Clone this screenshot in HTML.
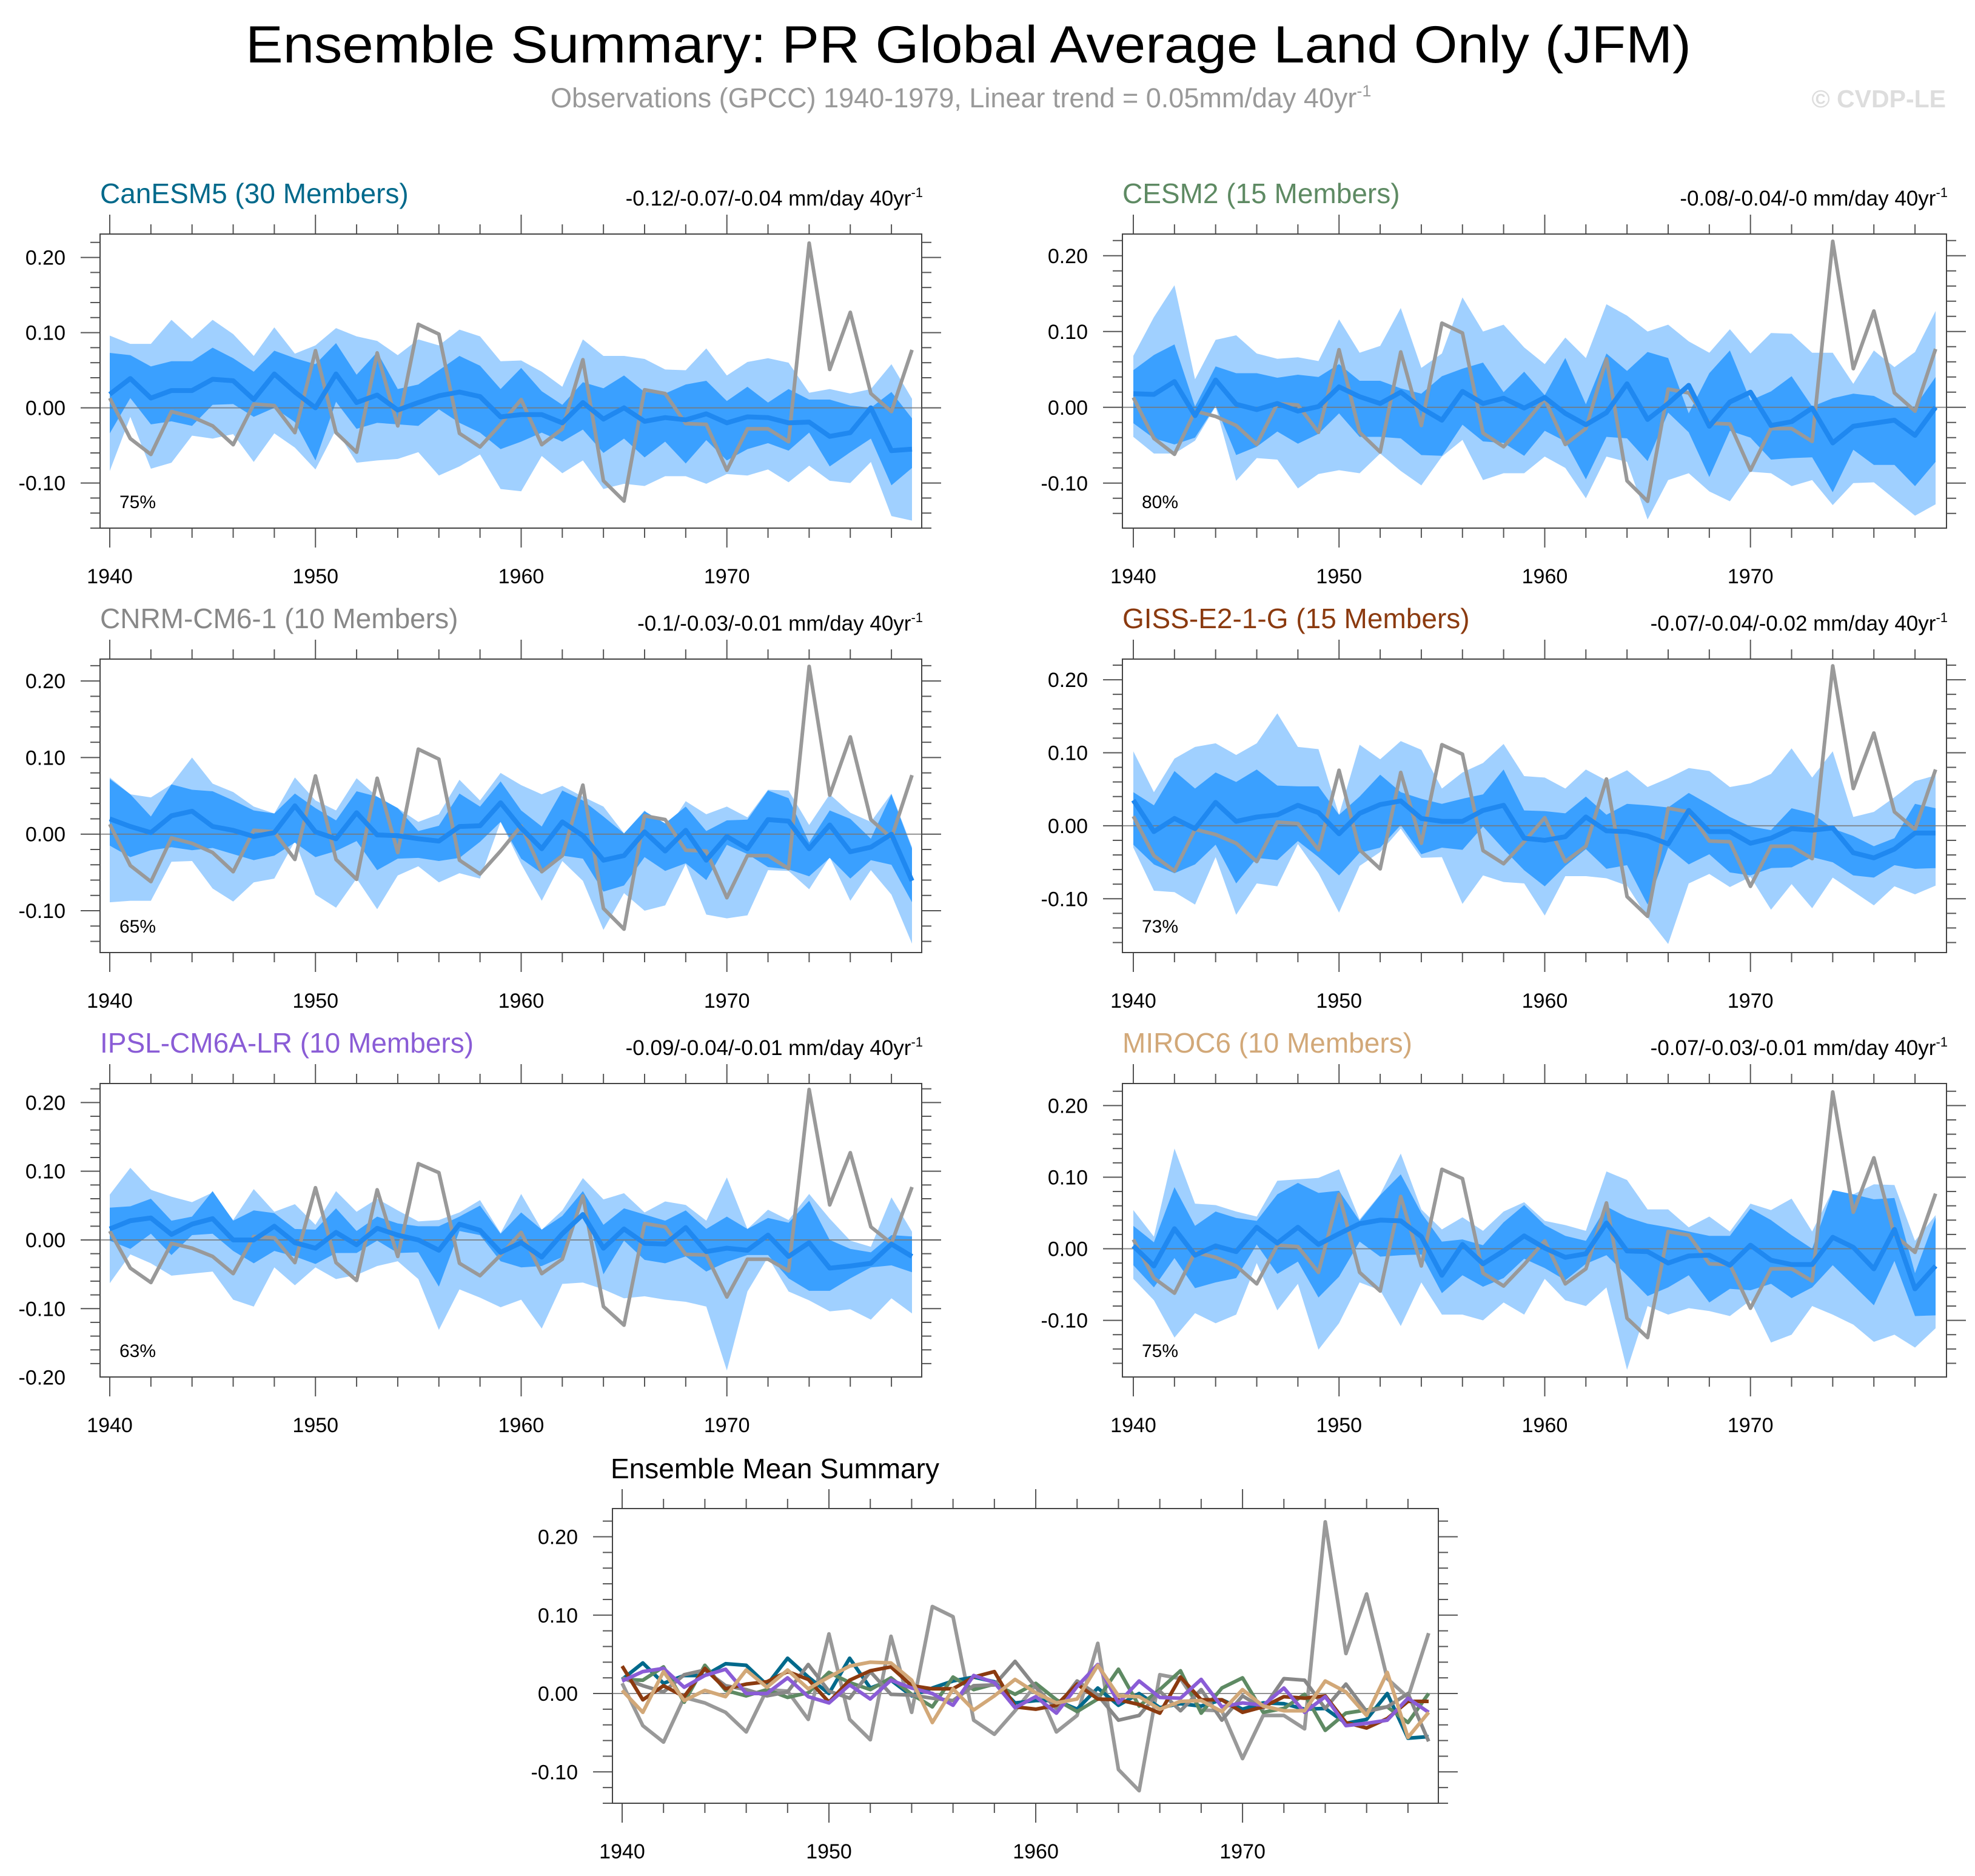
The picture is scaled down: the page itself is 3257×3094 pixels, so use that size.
<!DOCTYPE html>
<html><head><meta charset="utf-8"><style>
html,body{margin:0;padding:0;background:#fff;}
svg{display:block;font-family:"Liberation Sans",Arial,sans-serif;}
</style></head><body>
<svg id="chart" width="3257" height="3094" viewBox="0 0 3257 3094" xmlns="http://www.w3.org/2000/svg">
<rect width="3257" height="3094" fill="#fff"/>
<text x="1597" y="103" font-size="86" text-anchor="middle" textLength="2384" lengthAdjust="spacingAndGlyphs" fill="#000">Ensemble Summary: PR Global Average Land Only (JFM)</text>
<text x="908" y="177" font-size="45" fill="#999">Observations (GPCC) 1940-1979, Linear trend = 0.05mm/day 40yr<tspan dy="-18" font-size="27">-1</tspan></text>
<text x="3209" y="177" font-size="41" font-weight="bold" text-anchor="end" fill="#ddd">© CVDP-LE</text>
<g id="plots"></g>
</svg>
<script>
const years=[];for(let y=1940;y<=1979;y++)years.push(y);
const obs=[.013,-.041,-.062,-.005,-.012,-.024,-.049,.005,.003,-.033,.076,-.033,-.059,.073,-.024,.111,.098,-.034,-.052,-.022,.011,-.049,-.028,.064,-.097,-.124,.024,.019,-.021,-.022,-.083,-.028,-.028,-.045,.219,.051,.127,.019,-.005,.077];

const canMean=[.018,.039,.013,.023,.023,.038,.036,.011,.045,.021,0,.045,.007,.017,-.003,.007,.016,.021,.015,-.012,-.009,-.009,-.02,.007,-.015,0,-.018,-.013,-.016,-.008,-.02,-.012,-.013,-.02,-.019,-.038,-.033,0,-.057,-.055];
const canDarkHi=[.073,.07,.055,.062,.062,.08,.066,.048,.076,.066,.058,.086,.044,.074,.025,.031,.05,.069,.056,.025,.053,.022,.004,.034,.026,.043,.021,.019,.031,.036,.009,.028,.007,.025,.011,.011,.003,0,.021,-.014];
const canDarkLo=[-.034,.013,-.022,-.018,-.024,.004,.005,-.012,0,-.019,-.07,.008,-.028,-.02,-.022,-.024,-.002,-.02,-.033,-.055,-.045,-.033,-.045,-.029,-.06,-.041,-.066,-.045,-.074,-.043,-.07,-.055,-.047,-.057,-.033,-.078,-.059,-.041,-.103,-.08];
const canLightHi=[.096,.085,.085,.117,.092,.117,.098,.069,.107,.072,.083,.106,.095,.089,.07,.091,.083,.104,.095,.062,.063,.048,.028,.091,.069,.069,.065,.051,.05,.079,.043,.061,.066,.06,.02,.025,.019,.025,.058,.012];
const canLightLo=[-.084,-.012,-.081,-.073,-.037,-.041,-.035,-.072,-.034,-.053,-.082,-.029,-.073,-.07,-.068,-.059,-.09,-.078,-.062,-.108,-.111,-.064,-.087,-.07,-.108,-.101,-.104,-.091,-.091,-.101,-.088,-.09,-.082,-.099,-.077,-.097,-.1,-.072,-.144,-.15];

const cesMean=[.018,.017,.034,-.011,.036,.004,-.003,.005,-.005,.001,.027,.014,.005,.020,-.001,-.017,.021,.005,.012,-.001,.013,-.008,-.023,-.007,.031,-.016,.005,.029,-.025,.007,.020,-.024,-.019,-.001,-.047,-.025,-.021,-.017,-.037,0];
const cesDarkHi=[.049,.069,.083,.001,.054,.045,.045,.039,.043,.040,.057,.035,.035,.025,.018,.041,.051,.059,.020,.047,.016,.065,.004,.071,.048,.073,.065,-.008,.045,.075,.009,.021,.041,.001,.012,.018,.015,.001,.001,.040];
const cesDarkLo=[-.021,-.041,-.049,-.040,.002,-.063,-.052,-.032,-.048,-.035,-.008,-.039,-.039,-.041,-.063,-.064,-.023,-.045,-.047,-.064,-.031,-.045,-.095,-.039,-.041,-.071,-.007,-.033,-.092,-.031,-.040,-.069,-.067,-.066,-.112,-.056,-.076,-.076,-.104,-.072];
const cesLightHi=[.068,.119,.161,.037,.089,.095,.071,.064,.066,.061,.116,.072,.081,.131,.052,.071,.145,.100,.109,.079,.057,.092,.065,.136,.121,.100,.109,.087,.072,.103,.071,.098,.097,.072,.072,.031,.075,.053,.073,.127];
const cesLightLo=[-.039,-.061,-.061,-.044,.001,-.097,-.067,-.069,-.107,-.088,-.083,-.087,-.061,-.084,-.103,-.065,-.043,-.096,-.087,-.087,-.065,-.080,-.120,-.065,-.072,-.148,-.096,-.087,-.111,-.124,-.085,-.087,-.104,-.096,-.129,-.100,-.099,-.121,-.143,-.128];

const cnrMean=[.020,.010,.002,.024,.030,.010,.005,-.003,.002,.037,.003,-.006,.028,-.001,-.002,-.006,-.009,.010,.011,.041,.008,-.019,.016,-.002,-.034,-.028,.003,-.022,.005,-.034,-.003,-.019,.019,.017,-.019,.012,-.023,-.017,0,-.061];
const cnrDarkHi=[.072,.052,.023,.065,.058,.056,.044,.031,.027,.053,.034,.018,.056,.049,.034,.004,.011,.053,.036,.069,.031,.010,.057,.044,.023,.001,.030,.014,.036,.004,.018,.019,.057,.047,-.011,.031,.020,-.006,.052,-.019];
const cnrDarkLo=[-.015,-.030,-.021,-.017,-.021,-.018,-.026,-.034,-.028,-.011,-.030,-.022,-.009,-.047,-.032,-.031,-.035,-.031,-.010,.016,-.032,-.051,-.028,-.032,-.075,-.067,-.030,-.048,-.038,-.060,-.014,-.026,-.043,-.046,-.055,-.031,-.058,-.034,-.040,-.089];
const cnrLightHi=[.074,.052,.048,.065,.100,.066,.055,.036,.027,.074,.044,.031,.073,.049,.034,.016,.026,.071,.044,.080,.064,.052,.063,.049,.036,.001,.031,.002,.043,.026,.036,.022,.058,.057,.012,.052,.028,.016,.053,-.017];
const cnrLightLo=[-.089,-.087,-.087,-.036,-.035,-.071,-.088,-.063,-.058,-.009,-.079,-.096,-.058,-.098,-.054,-.042,-.063,-.051,-.058,.016,-.039,-.087,-.035,-.061,-.125,-.077,-.100,-.093,-.039,-.105,-.110,-.106,-.047,-.048,-.072,-.030,-.087,-.047,-.079,-.143];

const gisMean=[.035,-.008,.010,-.004,.032,.006,.012,.015,.028,.018,-.011,.017,.029,.034,.010,.006,.006,.021,.028,-.017,-.020,-.015,.012,-.007,-.008,-.014,-.025,.021,-.008,-.008,-.024,-.017,-.004,-.006,-.003,-.037,-.044,-.032,-.010,-.010];
const gisDarkHi=[.046,.028,.075,.051,.073,.060,.077,.055,.054,.054,.015,.040,.070,.046,.037,.030,.037,.043,.077,.021,.020,.017,.040,.015,.030,.028,.025,.045,.029,.012,-.001,-.006,.024,.017,-.004,-.014,-.028,-.017,.030,.024];
const gisDarkLo=[-.026,-.053,-.065,-.053,-.026,-.079,-.044,-.047,-.021,-.043,-.068,-.037,-.030,.001,-.039,-.030,-.033,-.001,-.032,-.061,-.083,-.055,-.032,-.059,-.054,-.108,-.030,-.053,-.039,-.064,-.068,-.058,-.057,-.043,-.050,-.068,-.071,-.054,-.059,-.058];
const gisLightHi=[.102,.046,.092,.108,.113,.097,.113,.154,.108,.105,.015,.111,.091,.116,.104,.051,.073,.086,.112,.068,.066,.051,.077,.062,.076,.053,.065,.079,.075,.053,.058,.071,.106,.066,.102,.012,.019,.039,.061,.069];
const gisLightLo=[-.030,-.089,-.091,-.108,-.043,-.122,-.079,-.083,-.025,-.065,-.119,-.055,-.036,-.004,-.044,-.043,-.107,-.068,-.077,-.079,-.123,-.069,-.069,-.072,-.082,-.126,-.162,-.079,-.066,-.084,-.070,-.115,-.080,-.113,-.071,-.090,-.109,-.083,-.094,-.082];

const ipsMean=[.016,.028,.032,.008,.023,.031,0,0,.020,-.004,-.012,.011,-.007,.017,.007,0,-.015,.023,.014,-.018,-.004,-.025,.009,.037,-.012,.016,-.005,-.006,.018,-.017,-.012,-.015,.007,-.024,-.004,-.041,-.038,-.034,-.006,-.024];
const ipsDarkHi=[.047,.049,.060,.028,.034,.071,.028,.043,.039,.016,.015,.046,.013,.034,.024,.020,.020,.034,.050,.009,.040,.015,.035,.071,.022,.046,.037,.028,.043,.016,.034,.016,.032,.025,.057,0,-.013,-.018,.007,.005];
const ipsDarkLo=[-.001,-.013,.009,-.022,.007,.009,-.016,-.034,-.016,-.024,-.035,-.019,-.019,-.001,-.019,-.018,-.068,.013,.007,-.031,-.040,-.038,-.025,.059,-.050,-.001,-.029,-.034,-.024,-.046,-.032,-.022,-.022,-.056,-.074,-.074,-.056,-.040,-.037,-.047];
const ipsLightHi=[.066,.105,.073,.063,.055,.069,.029,.074,.041,.052,.022,.071,.041,.060,.043,.027,.029,.040,.058,.010,.067,.015,.043,.090,.059,.068,.040,.056,.051,.028,.091,.016,.044,.029,.067,.031,-.001,-.010,.062,.012];
const ipsLightLo=[-.063,-.021,-.034,-.052,-.049,-.046,-.087,-.097,-.040,-.066,-.040,-.057,-.051,-.038,-.031,-.057,-.131,-.072,-.084,-.098,-.087,-.129,-.064,-.062,-.072,-.085,-.082,-.087,-.090,-.097,-.190,-.075,-.025,-.075,-.088,-.104,-.101,-.116,-.085,-.107];

const mirMean=[.004,-.024,.028,-.009,.004,-.004,.030,.008,.030,.006,.021,.035,.040,.039,.017,-.037,.006,-.021,-.003,.018,.001,-.012,-.007,.036,-.003,-.004,-.020,-.010,-.009,-.023,.005,-.016,-.022,-.022,.016,.002,-.028,.027,-.056,-.024];
const mirDarkHi=[.032,.009,.086,.032,.052,.043,.039,.076,.092,.078,.081,.039,.075,.104,.050,.010,.013,.005,.037,.061,.033,.018,.011,.059,.044,.035,.030,.024,.018,.018,.056,.040,.019,0,.082,.076,.069,.071,-.034,.044];
const mirDarkLo=[-.023,-.054,-.013,-.055,-.047,-.041,.006,-.035,-.018,-.068,-.039,.010,-.011,-.009,-.008,-.062,-.037,-.053,-.041,-.014,-.027,-.044,-.021,-.009,-.037,-.066,-.054,-.037,-.075,-.056,-.058,-.049,-.069,-.054,-.023,-.051,-.079,-.017,-.094,-.093];
const mirLightHi=[.054,.017,.140,.063,.061,.052,.045,.095,.097,.099,.111,.041,.076,.133,.055,.027,.044,.025,.052,.065,.039,.033,.025,.108,.096,.055,.055,.030,.045,.024,.063,.054,.070,.024,.082,.076,.090,.089,.011,.047];
const mirLightLo=[-.042,-.072,-.124,-.090,-.104,-.092,-.020,-.086,-.049,-.141,-.104,-.047,-.058,-.108,-.047,-.092,-.092,-.100,-.075,-.092,-.042,-.072,-.080,-.054,-.169,-.080,-.092,-.083,-.087,-.094,-.072,-.131,-.120,-.080,-.092,-.106,-.130,-.120,-.138,-.111];

const NS='http://www.w3.org/2000/svg';
const root=document.getElementById('plots');
function mk(tag,attrs,parent){const e=document.createElementNS(NS,tag);for(const k in attrs)e.setAttribute(k,attrs[k]);(parent||root).appendChild(e);return e;}

const panels=[
 {key:'canesm5',title:'CanESM5 (30 Members)',color:'#00698b',trend:'-0.12/-0.07/-0.04 mm/day 40yr',pct:'75%',l:165,r:1520,x0:181,x1:1504,t:386,b:871,ymax:.2311,ymin:-.1600,mean:canMean,dh:canDarkHi,dl:canDarkLo,lh:canLightHi,ll:canLightLo,ticks:[.2,.1,0,-.1]},
 {key:'cesm2',title:'CESM2 (15 Members)',color:'#5e8a63',trend:'-0.08/-0.04/-0 mm/day 40yr',pct:'80%',l:1851,r:3210,x0:1869,x1:3192,t:386,b:871,ymax:.2286,ymin:-.1594,mean:cesMean,dh:cesDarkHi,dl:cesDarkLo,lh:cesLightHi,ll:cesLightLo,ticks:[.2,.1,0,-.1]},
 {key:'cnrm-cm6-1',title:'CNRM-CM6-1 (10 Members)',color:'#888888',trend:'-0.1/-0.03/-0.01 mm/day 40yr',pct:'65%',l:165,r:1520,x0:181,x1:1504,t:1087,b:1571,ymax:.2286,ymin:-.1546,mean:cnrMean,dh:cnrDarkHi,dl:cnrDarkLo,lh:cnrLightHi,ll:cnrLightLo,ticks:[.2,.1,0,-.1]},
 {key:'giss-e2-1-g',title:'GISS-E2-1-G (15 Members)',color:'#8b3a0f',trend:'-0.07/-0.04/-0.02 mm/day 40yr',pct:'73%',l:1851,r:3210,x0:1869,x1:3192,t:1087,b:1571,ymax:.2283,ymin:-.1737,mean:gisMean,dh:gisDarkHi,dl:gisDarkLo,lh:gisLightHi,ll:gisLightLo,ticks:[.2,.1,0,-.1]},
 {key:'ipsl-cm6a-lr',title:'IPSL-CM6A-LR (10 Members)',color:'#8a5cd6',trend:'-0.09/-0.04/-0.01 mm/day 40yr',pct:'63%',l:165,r:1520,x0:181,x1:1504,t:1787,b:2271,ymax:.2277,ymin:-.1995,mean:ipsMean,dh:ipsDarkHi,dl:ipsDarkLo,lh:ipsLightHi,ll:ipsLightLo,ticks:[.2,.1,0,-.1,-.2]},
 {key:'miroc6',title:'MIROC6 (10 Members)',color:'#d2a878',trend:'-0.07/-0.03/-0.01 mm/day 40yr',pct:'75%',l:1851,r:3210,x0:1869,x1:3192,t:1787,b:2271,ymax:.2308,ymin:-.1791,mean:mirMean,dh:mirDarkHi,dl:mirDarkLo,lh:mirLightHi,ll:mirLightLo,ticks:[.2,.1,0,-.1]}
];

function axes(p,g){
  const xs=y=>p.x0+(y-1940)*(p.x1-p.x0)/39;
  const ys=v=>p.t+(p.ymax-v)/(p.ymax-p.ymin)*(p.b-p.t);
  for(let y=1940;y<=1978;y+=2){
    const major=(y%10===0);const len=major?32:16;const x=xs(y);
    mk('line',{x1:x,y1:p.t,x2:x,y2:p.t-len,stroke:'#555','stroke-width':2},g);
    mk('line',{x1:x,y1:p.b,x2:x,y2:p.b+len,stroke:'#555','stroke-width':2},g);
    if(major){const tl=mk('text',{x:x,y:p.b+91,'font-size':34,'text-anchor':'middle',fill:'#000'},g);tl.textContent=String(y);
      
      }
  }
  const lo=Math.ceil(p.ymin/0.02-1e-6),hi=Math.floor(p.ymax/0.02+1e-6);
  for(let k=lo;k<=hi;k++){
    const v=k*0.02;const major=(k%5===0);const len=major?32:16;const y=ys(v);
    mk('line',{x1:p.l,y1:y,x2:p.l-len,y2:y,stroke:'#555','stroke-width':2},g);
    mk('line',{x1:p.r,y1:y,x2:p.r+len,y2:y,stroke:'#555','stroke-width':2},g);
  }
  p.ticks.forEach(v=>{const tl=mk('text',{x:p.l-57,y:ys(v)+12,'font-size':34,'text-anchor':'end',fill:'#000'},g);tl.textContent=v.toFixed(2);
    
    });
  return {xs,ys};
}

function band(hi,lo,xs,ys,fill,g){
  let d='M'+years.map((y,i)=>xs(y)+','+ys(hi[i])).join(' L');
  d+=' L'+years.slice().reverse().map((y,j)=>{const i=years.length-1-j;return xs(y)+','+ys(lo[i]);}).join(' L')+' Z';
  return mk('path',{d:d,fill:fill,stroke:'none'},g);
}
function line(vals,xs,ys,color,w,g){
  return mk('polyline',{points:years.map((y,i)=>xs(y)+','+ys(vals[i])).join(' '),fill:'none',stroke:color,'stroke-width':w,'stroke-linejoin':'round'},g);
}

panels.forEach(p=>{
  const g=mk('g',{});
  
  
  const {xs,ys}=axes(p,g);
  const lb=band(p.lh,p.ll,xs,ys,'#a0d0ff',g);
  
  
  const db=band(p.dh,p.dl,xs,ys,'#3aa0ff',g);
  
  
  const z=mk('line',{x1:p.l,y1:ys(0),x2:p.r,y2:ys(0),stroke:'#777','stroke-width':2,'stroke-opacity':0.8},g);
  
  
  const ob=line(obs,xs,ys,'#999',6,g);
  
  
  const ml=line(p.mean,xs,ys,'#1f88f0',8,g);
  
  
  const fr=mk('rect',{x:p.l,y:p.t,width:p.r-p.l,height:p.b-p.t,fill:'none',stroke:'#444','stroke-width':2},g);
  
  
  const ti=mk('text',{x:p.l,y:p.t-51,'font-size':46,fill:p.color},g);ti.textContent=p.title;
  
  
  const tr=mk('text',{x:p.r+2,y:p.t-47,'font-size':35,'text-anchor':'end',fill:'#000'},g);
  tr.textContent=p.trend;
  const sup=mk('tspan',{dy:-14,'font-size':22},tr);sup.textContent='-1';
  
  
  const pc=mk('text',{x:p.l+32,y:p.b-33,'font-size':30,fill:'#000'},g);pc.textContent=p.pct;
  
  
});

const sp={key:'summary',l:1010,r:2372,x0:1026,x1:2356,t:2488,b:2974,ymax:.236,ymin:-.140,ticks:[.2,.1,0,-.1]};
const sg=mk('g',{});


const sa=axes(sp,sg);
const sz=mk('line',{x1:sp.l,y1:sa.ys(0),x2:sp.r,y2:sa.ys(0),stroke:'#777','stroke-width':2,'stroke-opacity':0.8},sg);


const sob=line(obs,sa.xs,sa.ys,'#999',6,sg);


panels.forEach(p=>{
  const l=line(p.mean,sa.xs,sa.ys,p.color,6,sg);
  
  
});
const sfr=mk('rect',{x:sp.l,y:sp.t,width:sp.r-sp.l,height:sp.b-sp.t,fill:'none',stroke:'#444','stroke-width':2},sg);


const st=mk('text',{x:1007,y:2438,'font-size':46,fill:'#000'},sg);st.textContent='Ensemble Mean Summary';


</script>
</body></html>
